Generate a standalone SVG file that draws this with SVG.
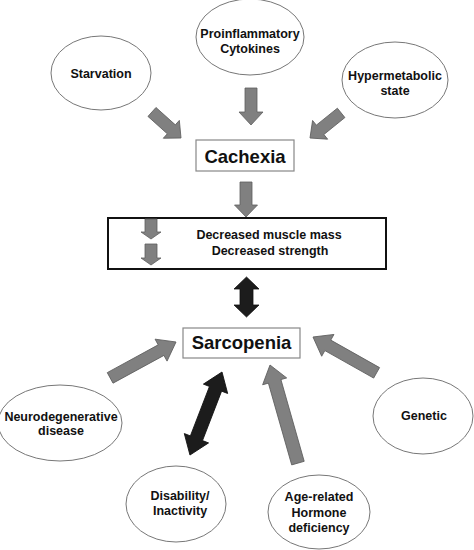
<svg xmlns="http://www.w3.org/2000/svg" width="474" height="550" viewBox="0 0 474 550">
<style>
.ell{fill:#fff;stroke:#777;stroke-width:1}
.lbl{font-family:"Liberation Sans",Arial,sans-serif;font-weight:bold;font-size:12.5px;fill:#111;text-anchor:middle}
.big{font-family:"Liberation Sans",Arial,sans-serif;font-weight:bold;font-size:18.5px;fill:#111;text-anchor:middle}
.gbox{fill:#fff;stroke:#888;stroke-width:1.2}
.kbox{fill:#fff;stroke:#111;stroke-width:2}
.ga{fill:#808080;stroke:#5e5e5e;stroke-width:0.8}
.ka{fill:#1c1c1c;stroke:#111;stroke-width:0.8}
</style>
<rect width="474" height="550" fill="#fff"/>
<g id="connectors">
<polygon class="ga" transform="translate(181,138) rotate(41.9)" points="0,0 -13,-12 -13,-6 -39,-6 -39,6 -13,6 -13,12"/>
<polygon class="ga" transform="translate(251,125) rotate(90)" points="0,0 -13,-12 -13,-6 -37,-6 -37,6 -13,6 -13,12"/>
<polygon class="ga" transform="translate(310,138) rotate(141.1)" points="0,0 -13,-12 -13,-6 -40,-6 -40,6 -13,6 -13,12"/>
<polygon class="ga" transform="translate(246,217) rotate(90)" points="0,0 -12,-11.5 -12,-6 -35,-6 -35,6 -12,6 -12,11.5"/>
<polygon class="ka" transform="translate(246.5,317) rotate(90)" points="0,0 -12,-12.5 -12,-6.5 -28,-6.5 -28,-12.5 -40,0 -28,12.5 -28,6.5 -12,6.5 -12,12.5"/>
<polygon class="ga" transform="translate(176,342) rotate(-28.6)" points="0,0 -17,-12.5 -17,-6 -75,-6 -75,6 -17,6 -17,12.5"/>
<polygon class="ga" transform="translate(313,337) rotate(209.4)" points="0,0 -17,-12.5 -17,-6 -73,-6 -73,6 -17,6 -17,12.5"/>
<polygon class="ga" transform="translate(270,365) rotate(-105.9)" points="0,0 -17,-12.5 -17,-6.5 -102,-6.5 -102,6.5 -17,6.5 -17,12.5"/>
<polygon class="ka" transform="translate(222,372) rotate(-68.9)" points="0,0 -18,-13 -18,-6.5 -71,-6.5 -71,-13 -89,0 -71,13 -71,6.5 -18,6.5 -18,13"/>
</g>
<g id="starvation">
<ellipse class="ell" cx="101" cy="73" rx="50" ry="37"/>
<text class="lbl" x="101" y="78">Starvation</text>
</g>
<g id="proinflammatory">
<ellipse class="ell" cx="250" cy="37" rx="54" ry="38"/>
<text class="lbl" x="250" y="38">Proinflammatory</text>
<text class="lbl" x="250" y="53">Cytokines</text>
</g>
<g id="hypermetabolic">
<ellipse class="ell" cx="395" cy="80" rx="53" ry="38"/>
<text class="lbl" x="395" y="80">Hypermetabolic</text>
<text class="lbl" x="395" y="95">state</text>
</g>
<g id="cachexia">
<rect class="gbox" x="196" y="140" width="98" height="31"/>
<text class="big" x="245" y="163">Cachexia</text>
</g>
<g id="decreased">
<rect class="kbox" x="108" y="218" width="278" height="51"/>
<polygon class="ga" points="145,219 157,219 157,232 161,232 151,239 141,232 145,232"/>
<polygon class="ga" points="145,244 157,244 157,258 161,258 151,265 141,258 145,258"/>
<text class="lbl" x="269" y="239">Decreased muscle mass</text>
<text class="lbl" x="270" y="255">Decreased strength</text>
</g>
<g id="sarcopenia">
<rect class="gbox" x="183" y="328" width="117" height="30"/>
<text class="big" x="241.5" y="349">Sarcopenia</text>
</g>
<g id="neurodegenerative">
<ellipse class="ell" cx="60" cy="423" rx="62" ry="38"/>
<text class="lbl" x="61" y="421">Neurodegenerative</text>
<text class="lbl" x="61" y="435">disease</text>
</g>
<g id="genetic">
<ellipse class="ell" cx="423" cy="416" rx="50" ry="38"/>
<text class="lbl" x="424" y="420">Genetic</text>
</g>
<g id="disability">
<ellipse class="ell" cx="176" cy="504" rx="50" ry="38"/>
<text class="lbl" x="180" y="500">Disability/</text>
<text class="lbl" x="180" y="515">Inactivity</text>
</g>
<g id="age-related">
<ellipse class="ell" cx="319" cy="512" rx="51" ry="37"/>
<text class="lbl" x="319" y="501">Age-related</text>
<text class="lbl" x="319" y="517">Hormone</text>
<text class="lbl" x="319" y="532">deficiency</text>
</g>
</svg>
